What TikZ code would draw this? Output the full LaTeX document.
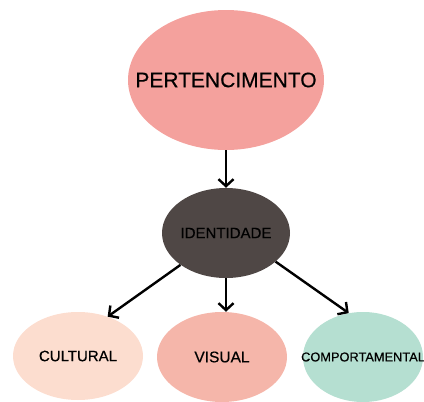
\documentclass[tikz,border=0pt]{standalone}
\usepackage{fontspec}
\setmainfont{Liberation Sans}[BoldFont=Liberation Sans, BoldFeatures={FakeBold=0.5}]
\usetikzlibrary{shapes.geometric,arrows.meta}

\definecolor{pertfill}{HTML}{F4A19D}
\definecolor{identfill}{HTML}{4F4745}
\definecolor{cultfill}{HTML}{FCDDCF}
\definecolor{visfill}{HTML}{F5B6AA}
\definecolor{compfill}{HTML}{B5DFD1}

\tikzset{
  bubble/.style={ellipse, draw=none, inner sep=0pt, text=black},
  link/.style={line width=2.4pt, -{Straight Barb[length=7pt,width=15pt]}}
}

\begin{document}
\begin{tikzpicture}[x=1pt,y=-1pt]
  \useasboundingbox (0,0) rectangle (424,402);
  % top level
  \node[bubble, fill=pertfill, minimum width=196pt, minimum height=140pt,
        font=\fontsize{21}{24}\selectfont\bfseries] (pert) at (226,80)
        {\makebox[0pt]{PERTENCIMENTO}};
  \node[bubble, fill=identfill, minimum width=128pt, minimum height=90pt,
        font=\fontsize{15}{17}\selectfont\bfseries] (ident) at (226,233)
        {\makebox[0pt]{IDENTIDADE}};
  % bottom row
  \node[bubble, fill=cultfill, minimum width=130pt, minimum height=88pt,
        font=\fontsize{15}{17}\selectfont\bfseries] (cult) at (78,356)
        {\makebox[0pt]{CULTURAL}};
  \node[bubble, fill=visfill, minimum width=130pt, minimum height=90pt,
        font=\fontsize{15.5}{17}\selectfont\bfseries] (vis) at (222,357)
        {\makebox[0pt]{VISUAL}};
  \node[bubble, fill=compfill, minimum width=120pt, minimum height=90pt,
        font=\fontsize{12.8}{15}\selectfont\bfseries] (comp) at (363,357)
        {\makebox[0pt]{COMPORTAMENTAL}};

  \draw[link] (pert.south) -- (ident.north);
  \draw[link] (ident.215) -- (cult.53);
  \draw[link] (ident.south) -- (ident.south |- vis.north);
  \draw[link] (ident.330) -- (comp.108);
\end{tikzpicture}
\end{document}
